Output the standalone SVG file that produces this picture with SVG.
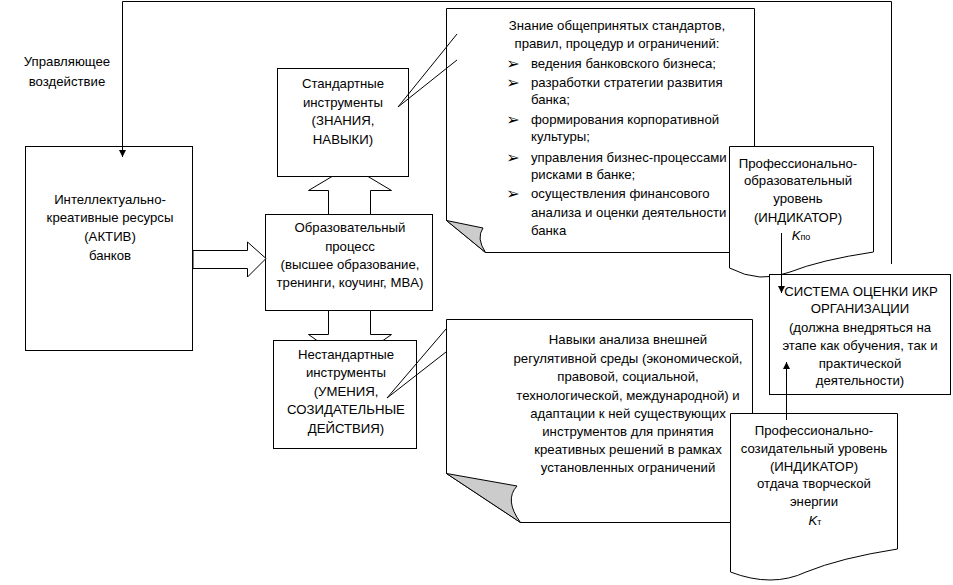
<svg xmlns="http://www.w3.org/2000/svg" width="953" height="585" viewBox="0 0 953 585">
<defs>
<style>
.box{fill:#fff;stroke:#000;stroke-width:1}
.curl{fill:#ccc;stroke:#000;stroke-width:1}
.ln{fill:none;stroke:#000;stroke-width:1}
.blk{fill:#fff;stroke:#000;stroke-width:1}
text{font-family:"Liberation Sans",Arial,sans-serif;font-size:13.2px;fill:#000}
.c{text-anchor:middle}
.bul{font-family:"DejaVu Sans",sans-serif;font-size:16px;text-anchor:middle}
.k{font-style:italic}
.sub{font-size:9px}
</style>
<marker id="ah" markerWidth="8" markerHeight="8" refX="7" refY="4" orient="auto" markerUnits="userSpaceOnUse">
<path d="M0,0.5 L7,4 L0,7.5 Z" fill="#000"/>
</marker>
</defs>
<rect width="953" height="585" fill="#fff"/>

<g id="label-control">
<text class="c" x="67" y="66">Управляющее</text>
<text class="c" x="67" y="86">воздействие</text>
</g>

<g id="node-resources">
<rect class="box" x="25.5" y="146.5" width="167" height="204"/>
<text class="c" x="110" y="204">Интеллектуально-</text>
<text class="c" x="110" y="222">креативные ресурсы</text>
<text class="c" x="110" y="241">(АКТИВ)</text>
<text class="c" x="110" y="260">банков</text>
</g>

<g id="node-standard">
<rect class="box" x="277.5" y="68.5" width="131" height="108"/>
<text class="c" x="343" y="88">Стандартные</text>
<text class="c" x="343" y="107">инструменты</text>
<text class="c" x="343" y="125">(ЗНАНИЯ,</text>
<text class="c" x="343" y="144">НАВЫКИ)</text>
</g>

<g id="node-education">
<rect class="box" x="265.5" y="214.5" width="167" height="96"/>
<text class="c" x="350" y="232">Образовательный</text>
<text class="c" x="350" y="251">процесс</text>
<text class="c" x="350" y="269">(высшее образование,</text>
<text class="c" x="350" y="287">тренинги, коучинг, MBA)</text>
</g>

<g id="node-nonstandard">
<rect class="box" x="273.5" y="340.5" width="143" height="108"/>
<text class="c" x="346" y="359">Нестандартные</text>
<text class="c" x="346" y="377">инструменты</text>
<text class="c" x="346" y="396">(УМЕНИЯ,</text>
<text class="c" x="346" y="414">СОЗИДАТЕЛЬНЫЕ</text>
<text class="c" x="346" y="433">ДЕЙСТВИЯ)</text>
</g>

<g id="note-knowledge">
<path class="box" d="M446.5,8.5 H754.5 V252.5 H485.5 L446.5,220.5 Z"/>
<path class="curl" d="M446.5,220.5 L483,228 Q476,238 485.5,252.5 Z"/>
<text class="c" x="617" y="30">Знание общепринятых стандартов,</text>
<text class="c" x="617" y="48">правил, процедур и ограничений:</text>
<text class="bul" x="513" y="69">➢</text>
<text x="531" y="68">ведения банковского бизнеса;</text>
<text class="bul" x="513" y="88">➢</text>
<text x="531" y="87">разработки стратегии развития</text>
<text x="531" y="104">банка;</text>
<text class="bul" x="513" y="125">➢</text>
<text x="531" y="124">формирования корпоративной</text>
<text x="531" y="141">культуры;</text>
<text class="bul" x="513" y="163">➢</text>
<text x="531" y="162">управления бизнес-процессами и</text>
<text x="531" y="179">рисками в банке;</text>
<text class="bul" x="513" y="199">➢</text>
<text x="531" y="198">осуществления финансового</text>
<text x="531" y="217">анализа и оценки деятельности</text>
<text x="531" y="235">банка</text>
</g>

<g id="node-indicator-edu">
<path class="box" d="M729.5,146.5 H873.5 V252 Q820,260 790,272 Q760,284 729.5,268 Z"/>
<text class="c" x="798" y="168">Профессионально-</text>
<text class="c" x="798" y="185">образовательный</text>
<text class="c" x="798" y="203">уровень</text>
<text class="c" x="798" y="222">(ИНДИКАТОР)</text>
<text class="c" x="801" y="240"><tspan class="k">K</tspan><tspan class="sub">по</tspan></text>
</g>

<g id="node-system">
<rect class="box" x="769.5" y="274.5" width="181" height="120"/>
<text class="c" x="861" y="296">СИСТЕМА ОЦЕНКИ ИКР</text>
<text class="c" x="860" y="313">ОРГАНИЗАЦИИ</text>
<text class="c" x="860" y="332">(должна внедряться на</text>
<text class="c" x="860" y="350">этапе как обучения, так и</text>
<text class="c" x="860" y="368">практической</text>
<text class="c" x="860" y="385">деятельности)</text>
</g>

<g id="note-skills">
<path class="box" d="M446.5,319.5 H752.5 V522.5 H520.5 L446.5,473.5 Z"/>
<path class="curl" d="M446.5,473.5 L517,486 Q504,500 520.5,522.5 Z"/>
<text class="c" x="628" y="344">Навыки анализа внешней</text>
<text class="c" x="628" y="363">регулятивной среды (экономической,</text>
<text class="c" x="628" y="381">правовой, социальной,</text>
<text class="c" x="628" y="400">технологической, международной) и</text>
<text class="c" x="628" y="418">адаптации к ней существующих</text>
<text class="c" x="628" y="436">инструментов для принятия</text>
<text class="c" x="628" y="454">креативных решений в рамках</text>
<text class="c" x="628" y="472">установленных ограничений</text>
</g>

<g id="node-indicator-creative">
<path class="box" d="M730.5,413.5 H897.5 V549 Q840,558 806,572 Q772,588 730.5,572 Z"/>
<text class="c" x="814" y="435">Профессионально-</text>
<text class="c" x="814" y="453">созидательный уровень</text>
<text class="c" x="814" y="471">(ИНДИКАТОР)</text>
<text class="c" x="814" y="488">отдача творческой</text>
<text class="c" x="814" y="506">энергии</text>
<text class="c" x="815" y="525"><tspan class="k">K</tspan><tspan class="sub">т</tspan></text>
</g>

<g id="connectors">
<polyline class="ln" points="891.5,264 891.5,1.5 122.5,1.5 122.5,157" marker-end="url(#ah)"/>
<polygon class="blk" points="193,250.5 247.5,250.5 247.5,242 266,258.5 247.5,277 247.5,268.5 193,268.5"/>
<polygon class="blk" points="328.5,214.5 328.5,190.5 308.5,190.5 332,176.5 368,176.5 391.5,190.5 370.5,190.5 370.5,214.5"/>
<polygon class="blk" points="328.5,310.5 328.5,334.5 308.5,334.5 317,340.5 383,340.5 391.5,334.5 370.5,334.5 370.5,310.5"/>
<polyline class="ln" points="457,34 398,107 457,60"/>
<polyline class="ln" points="446,329 387,398 446,352"/>
<line class="ln" x1="781.5" y1="233" x2="781.5" y2="293" marker-end="url(#ah)"/>
<line class="ln" x1="786.5" y1="420" x2="786.5" y2="362" marker-end="url(#ah)"/>
</g>
</svg>
